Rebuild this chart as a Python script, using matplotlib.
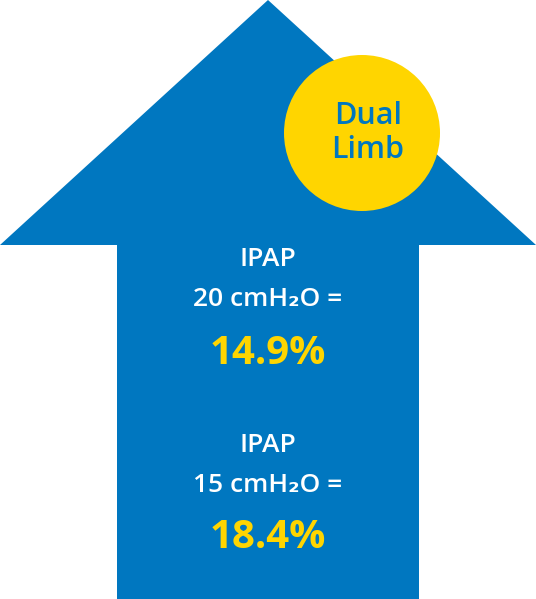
import matplotlib
matplotlib.use("Agg")
import matplotlib.pyplot as plt
from matplotlib.patches import Polygon, Circle

plt.rcParams['font.family'] = ['Open Sans', 'DejaVu Sans']

BLUE = "#0077C0"
YELLOW = "#FFD500"

# data
pressures = [20, 15]          # IPAP in cmH2O
percentages = [14.9, 18.4]    # result for each pressure
badge = "Dual\nLimb"

W, H = 536, 599
fig = plt.figure(figsize=(W / 100, H / 100), dpi=100)
ax = fig.add_axes([0, 0, 1, 1])
ax.set_xlim(0, W)
ax.set_ylim(H, 0)
ax.axis("off")

# arrow shape
arrow = [(268, 0), (536, 245), (419, 245), (419, 599),
         (117, 599), (117, 245), (0, 245)]
ax.add_patch(Polygon(arrow, closed=True, color=BLUE, lw=0))

# badge
ax.add_patch(Circle((362, 133), 78, color=YELLOW, lw=0))
ax.text(368, 133, badge, color=BLUE, fontsize=22, fontweight="semibold",
        ha="center", va="center", linespacing=1.15)

y0 = 260
for i, (p, v) in enumerate(zip(pressures, percentages)):
    y = y0 + i * 185
    ax.text(268, y, "IPAP", color="white", fontsize=19, fontweight="semibold",
            ha="center", va="center")
    ax.text(268, y + 40, f"{p} cmH\u2082O =", color="white", fontsize=19,
            fontweight="semibold", ha="center", va="center")
    ax.text(268, y + 93, f"{v}%", color=YELLOW, fontsize=29, fontweight="bold",
            ha="center", va="center")

fig.savefig("out.png", dpi=100)
